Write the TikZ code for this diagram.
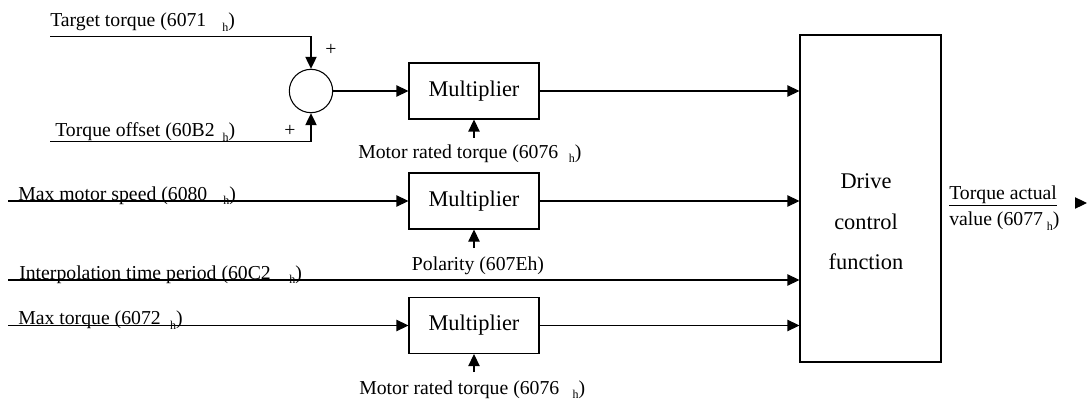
\documentclass[tikz,border=0pt]{standalone}
\usepackage{fontspec}
\setmainfont{Liberation Serif}
\usepackage{tikz}
\usetikzlibrary{arrows.meta}
\newcommand{\subh}[1]{\hspace{#1}\raisebox{-3.5pt}{\fontsize{9}{9}\selectfont h}}

\begin{document}
\begin{tikzpicture}[x=0.75pt,y=-0.75pt,
  sig/.style={draw=black,line width=0.8pt,-{Triangle[length=9pt,width=8.5pt]}},
  block/.style={rectangle,draw=black,line width=0.8pt,fill=white,inner sep=0pt,
    minimum width=97.5pt,minimum height=42pt,font=\fontsize{16.8}{20}\selectfont},
  sumpt/.style={circle,draw=black,line width=0.8pt,inner sep=0pt,minimum size=32.5pt},
  lbl/.style={inner sep=0pt,font=\fontsize{14.8}{17}\selectfont}]
\useasboundingbox (0,0) rectangle (1090,403);
% blocks
\node[sumpt] (sum) at (311,91) {};
\node[block] (mulA) at (474,91) {Multiplier};
\node[block] (mulB) at (474,201) {Multiplier};
\node[block] (mulC) at (474,325.5) {Multiplier};
\node[block,minimum width=105.75pt,minimum height=245.25pt] (drive) at (870.5,198.5) {};
\node[lbl,font=\fontsize{16.8}{30.5}\selectfont,align=center] (drvtxt) at (866,222) {Drive\\control\\function};
% free ends
\coordinate (tgt) at (50,36.5);
\coordinate (off) at (50,141.5);
\coordinate (speed) at (8,201);
\coordinate (ipol) at (8,280);
\coordinate (tmax) at (8,325.5);
\coordinate (mrtA) at (474,138);
\coordinate (pol) at (474,248);
\coordinate (mrtB) at (474,372);
\coordinate (outtail) at (1076,203);
\coordinate (outhead) at (1087,203);
% signals
\draw[sig] (tgt) -| (sum.north);
\draw[sig] (off) -| (sum.south);
\draw[sig] (sum.east) -- (mulA.west);
\draw[sig] (mulA.east) -- (mulA.east -| drive.west);
\draw[sig] (speed) -- (mulB.west);
\draw[sig] (mulB.east) -- (mulB.east -| drive.west);
\draw[sig] (ipol) -- (ipol -| drive.west);
\draw[sig] (tmax) -- (mulC.west);
\draw[sig] (mulC.east) -- (mulC.east -| drive.west);
\draw[sig] (mrtA) -- (mulA.south);
\draw[sig] (pol) -- (mulB.south);
\draw[sig] (mrtB) -- (mulC.south);
\draw[sig] (outtail) -- (outhead);
% labels
\node[lbl,anchor=base west] (lTgt) at (50,27) {Target torque (6071\subh{12pt})};
\node[lbl,anchor=base west] (lOff) at (55,137) {Torque offset (60B2\subh{6pt})};
\node[lbl] (plusA) at (331,50) {+};
\node[lbl] (plusB) at (290,131) {+};
\node[lbl,anchor=base west] (lSpeed) at (18,200) {Max motor speed (6080\subh{12pt})};
\node[lbl,anchor=base west] (lIpol) at (19,279) {Interpolation time period (60C2\subh{14pt})};
\node[lbl,anchor=base west] (lTmax) at (18,324.5) {Max torque (6072\subh{7pt})};
\node[lbl,anchor=base west] (lMrtA) at (358,158) {Motor rated torque (6076\subh{8pt})};
\node[lbl,anchor=base] (lPol) at (478,270) {Polarity (607Eh)};
\node[lbl,anchor=base west] (lMrtB) at (359,394) {Motor rated torque (6076\subh{10pt})};
\node[lbl,anchor=west,align=left,font=\fontsize{14.8}{19.5}\selectfont] (lOut) at (949,208) {\underline{Torque actual}\\value (6077\subh{3pt})};
\end{tikzpicture}
\end{document}
